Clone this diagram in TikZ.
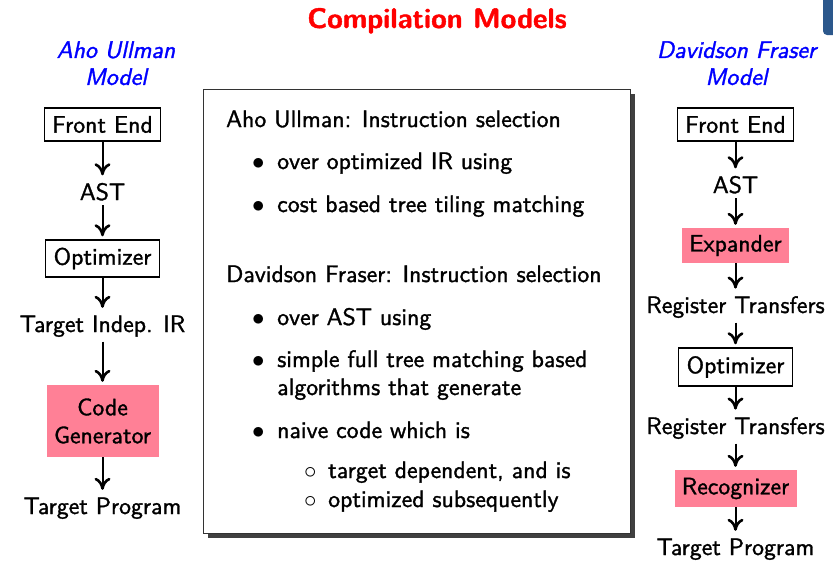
\documentclass[tikz,border=0pt]{standalone}
\usepackage{fontspec}
\setmainfont{lmsans10-regular.otf}[FakeBold=1.3,BoldFont=lmsans10-bold.otf,BoldFeatures={FakeBold=1.3},ItalicFont=lmsans10-oblique.otf,ItalicFeatures={FakeBold=1.3},BoldItalicFont=lmsans10-boldoblique.otf]
\setsansfont{lmsans10-regular.otf}[FakeBold=1.3,BoldFont=lmsans10-bold.otf,BoldFeatures={FakeBold=1.3},ItalicFont=lmsans10-oblique.otf,ItalicFeatures={FakeBold=1.3},BoldItalicFont=lmsans10-boldoblique.otf]
\usetikzlibrary{arrows.meta,shadows}
\definecolor{pinkc}{RGB}{255,128,150}
\definecolor{headblue}{RGB}{0,0,255}
\definecolor{titlered}{RGB}{255,0,0}
\definecolor{topblue}{RGB}{44,88,140}
\newcommand{\mybody}{\fontsize{23.8pt}{28pt}\selectfont}
\newcommand{\myhead}{\fontsize{23.8pt}{27pt}\selectfont\itshape}
\newcommand{\mytitle}{\fontsize{28.3pt}{32pt}\selectfont\bfseries}
\newcommand{\itm}{\makebox[25pt][l]{$\bullet$}}
\newcommand{\sitm}{\makebox[24pt][l]{$\circ$}}
\begin{document}
\begin{tikzpicture}[x=1pt,y=-1pt,font=\mybody,
  stepbox/.style={draw,line width=1.5pt,inner sep=0pt},
  pinkbox/.style={fill=pinkc,inner sep=0pt},
  lbl/.style={inner xsep=0pt,inner ysep=4.5pt,anchor=base},
  arr/.style={line width=2pt,-{Computer Modern Rightarrow[length=12pt,width=16pt,line width=2.6pt]},shorten >=3pt},
  bodytxt/.style={anchor=base west,inner sep=0pt},
  heading/.style={align=center,font=\myhead,text=headblue,inner sep=0pt}]
\useasboundingbox (0,0) rectangle (833,576);
\fill[topblue,rounded corners=4pt] (823,-10) rectangle (845,35);

\node[font=\mytitle,text=titlered,anchor=base,inner sep=0pt] (title) at (437,28) {Compilation Models};
\node[heading] (hdl) at (116,63.25) {Aho Ullman\\Model};
\node[heading] (hdr) at (736.5,63.25) {Davidson Fraser\\Model};

% left column
\node[stepbox,minimum width=116pt,minimum height=33pt] (fe1) at (102.5,124.5) {Front End};
\node[lbl] (ast1) at (102.5,200) {AST};
\node[stepbox,minimum width=114pt,minimum height=37pt] (opt1) at (102.5,258.5) {Optimizer};
\node[lbl] (tir) at (102.5,332) {Target Indep. IR};
\node[pinkbox,minimum width=112pt,minimum height=72pt,align=center] (cg) at (102.5,421) {Code\\Generator};
\node[lbl] (tp1) at (102.5,514) {Target Program};
\draw[arr] (fe1) -- (ast1);
\draw[arr] (ast1) -- (opt1);
\draw[arr] (opt1) -- (tir);
\draw[arr] (tir) -- (cg);
\draw[arr] (cg) -- (tp1);

% right column
\node[stepbox,minimum width=116pt,minimum height=33pt] (fe2) at (735.5,124.5) {Front End};
\node[lbl] (ast2) at (735.5,193) {AST};
\node[pinkbox,minimum width=107pt,minimum height=35pt] (exp) at (735.5,245.5) {Expander};
\node[lbl] (rt1) at (735.5,313) {Register Transfers};
\node[stepbox,minimum width=114pt,minimum height=38pt] (opt2) at (735.5,367) {Optimizer};
\node[lbl] (rt2) at (735.5,434) {Register Transfers};
\node[pinkbox,minimum width=122pt,minimum height=37pt] (rec) at (735.5,488.5) {Recognizer};
\node[lbl] (tp2) at (735.5,555) {Target Program};
\draw[arr] (fe2) -- (ast2);
\draw[arr] (ast2) -- (exp);
\draw[arr] (exp) -- (rt1);
\draw[arr] (rt1) -- (opt2);
\draw[arr] (opt2) -- (rt2);
\draw[arr] (rt2) -- (rec);
\draw[arr] (rec) -- (tp2);

% central box
\node[draw=black!80,line width=1pt,fill=white,minimum width=427pt,minimum height=444pt,inner sep=0pt,
  drop shadow={shadow xshift=5pt,shadow yshift=-5pt,fill=black!75,opacity=1}] (mainbox) at (416.5,311) {};
\node[bodytxt] (h1) at (226,127) {Aho Ullman: Instruction selection};
\node[bodytxt] (i1) at (252,169) {\itm over optimized IR using};
\node[bodytxt] (i2) at (252,212) {\itm cost based tree tiling matching};
\node[bodytxt] (h2) at (226,282) {Davidson Fraser: Instruction selection};
\node[bodytxt] (i3) at (252,325) {\itm over AST using};
\node[bodytxt] (i4) at (252,367) {\itm simple full tree matching based};
\node[bodytxt] (i4b) at (277,395) {algorithms that generate};
\node[bodytxt] (i5) at (252,438) {\itm naive code which is};
\node[bodytxt] (s1) at (304,478) {\sitm target dependent, and is};
\node[bodytxt] (s2) at (304,507) {\sitm optimized subsequently};
\end{tikzpicture}
\end{document}
